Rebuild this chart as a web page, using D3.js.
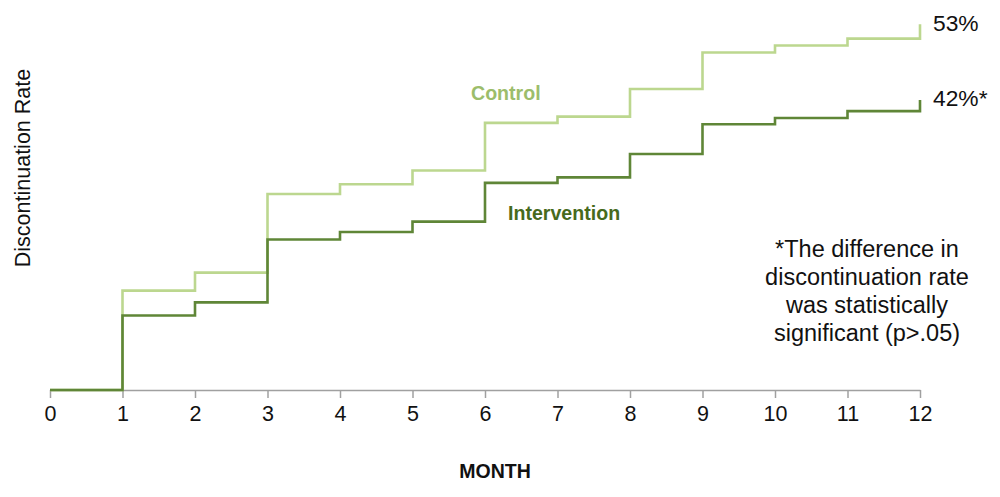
<!DOCTYPE html>
<html>
<head>
<meta charset="utf-8">
<script src="https://cdn.jsdelivr.net/npm/d3@7"></script>
<style>
  html, body { margin: 0; padding: 0; background: #fff; }
  svg { display: block; font-family: "Liberation Sans", Arial, Helvetica, sans-serif; }
</style>
</head>
<body>
<svg id="chart" width="1000" height="497"></svg>
<script>
// Data (percent discontinuation, step value at start of each month)
const months = [0, 1, 2, 3, 4, 5, 6, 7, 8, 9, 10, 11, 12];
const control = [0, 14.4, 17.0, 28.4, 29.8, 31.8, 38.7, 39.6, 43.6, 48.9, 49.9, 50.9, 53];
const intervention = [0, 10.8, 12.7, 21.8, 22.9, 24.4, 30.0, 30.8, 34.2, 38.5, 39.4, 40.4, 42];
const tickLabels = ["0", "1", "2", "3", "4", "5", "6", "7", "8", "9", "10", "11", "12"];
const endLabels = ["53%", "42%*"];
const seriesNames = ["Control", "Intervention"];
const noteLines = ["*The difference in", "discontinuation rate", "was statistically", "significant (p>.05)"];

const svg = d3.select("#chart");
const x = d3.scaleLinear().domain([0, 12]).range([50, 920]);
const y = d3.scaleLinear().domain([0, 56.5]).range([390, 0]);

// Axis
const axis = d3.axisBottom(x)
  .tickValues(months)
  .tickFormat((d, i) => tickLabels[i])
  .tickSize(8)
  .tickPadding(8)
  .tickSizeOuter(0);
const gAxis = svg.append("g").attr("transform", `translate(0,${y(0)})`).call(axis);
gAxis.select(".domain").attr("stroke", "#a0a0a0").attr("stroke-width", 1.5);
gAxis.selectAll(".tick line").attr("stroke", "#a0a0a0").attr("stroke-width", 1.5);
gAxis.selectAll(".tick text").attr("font-size", 21.5).attr("fill", "#111")
  .attr("font-family", "'Liberation Sans', Arial, sans-serif");

const line = d3.line().x((d, i) => x(months[i])).y(d => y(d)).curve(d3.curveStepAfter);

svg.append("path").datum(control).attr("d", line)
  .attr("fill", "none").attr("stroke", "#bcd78f").attr("stroke-width", 2.6);
svg.append("path").datum(intervention).attr("d", line)
  .attr("fill", "none").attr("stroke", "#5f8637").attr("stroke-width", 2.6);

// End labels
svg.append("text").attr("x", x(12) + 13).attr("y", y(control[12]) + 7)
  .attr("font-size", 22.8).attr("fill", "#111").text(endLabels[0]);
svg.append("text").attr("x", x(12) + 13).attr("y", y(intervention[12]) + 6)
  .attr("font-size", 22.8).attr("fill", "#111").text(endLabels[1]);

// Series labels
svg.append("text").attr("x", 471).attr("y", 100)
  .attr("font-size", 19.6).attr("font-weight", "bold").attr("fill", "#9cbd6b").text(seriesNames[0]);
svg.append("text").attr("x", 508).attr("y", 220)
  .attr("font-size", 19.6).attr("font-weight", "bold").attr("fill", "#476a1c").text(seriesNames[1]);

// Note
const note = svg.append("text").attr("text-anchor", "middle").attr("font-size", 23.5).attr("fill", "#111");
noteLines.forEach((t, i) => {
  note.append("tspan").attr("x", 867).attr("y", 257 + i * 28).text(t);
});

// Axis titles
svg.append("text").attr("x", 495).attr("y", 478).attr("text-anchor", "middle")
  .attr("font-size", 19.5).attr("font-weight", "bold").attr("fill", "#111").text("MONTH");
svg.append("text").attr("transform", "translate(30,168) rotate(-90)").attr("text-anchor", "middle")
  .attr("font-size", 21.5).attr("fill", "#111").text("Discontinuation Rate");
</script>
</body>
</html>
